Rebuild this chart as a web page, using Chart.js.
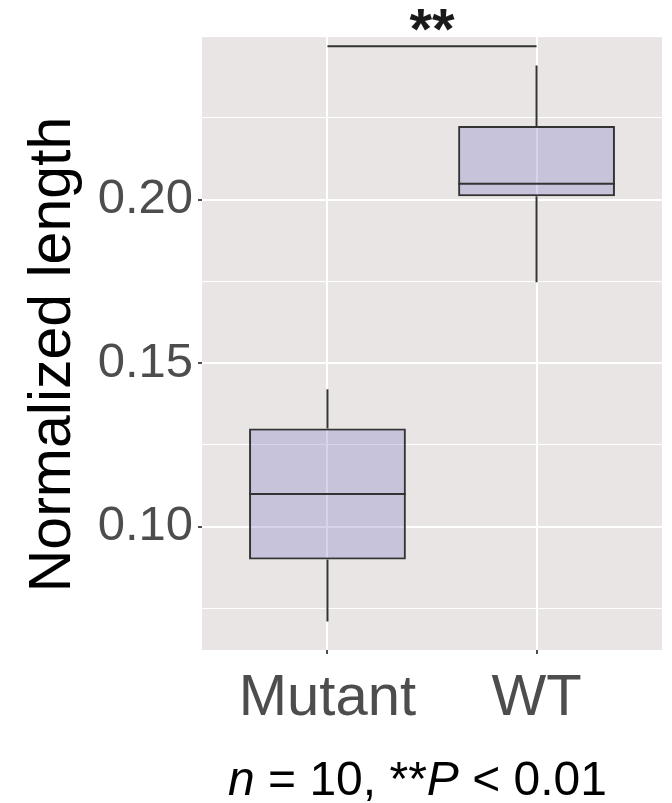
<!DOCTYPE html>
<html>
<head>
<meta charset="utf-8">
<script src="https://cdn.jsdelivr.net/npm/chart.js@4"></script>
<style>
  html, body { margin: 0; padding: 0; background: #fff; }
  #contenedor { width: 672px; height: 803px; }
</style>
</head>
<body>
<div id="contenedor"><canvas id="graficaCajas"></canvas></div>
<script>
// datos
const categorias = ['Mutant', 'WT'];
const minimos = [0.071, 0.1747];
const cuartil1 = [0.090, 0.201];
const medianas = [0.110, 0.2048];
const cuartil3 = [0.130, 0.2225];
const maximos = [0.142, 0.241];
const yTicks = [0.075, 0.10, 0.125, 0.15, 0.175, 0.20, 0.225];
const yEtiquetas = ['', '0.10', '', '0.15', '', '0.20', ''];
const signifY = 0.2469;
const signifTexto = '**';
const tituloY = 'Normalized length';
const piePartes = [['n', true], [' = 10, **', false], ['P', true], [' < 0.01', false]];

const FUENTE = '"Liberation Sans", Arial, Helvetica, sans-serif';
const anchoCaja = 0.75;
const grisTexto = '#4D4D4D';
const lineaOscura = '#333333';

// armar datasets
const datasets = [];

datasets.push({
  type: 'bar',
  label: 'caja',
  data: categorias.map((c, i) => ({ x: i + 1, y: [cuartil1[i], cuartil3[i]] })),
  backgroundColor: 'rgba(123, 116, 193, 0.3)',
  borderColor: lineaOscura,
  borderWidth: 2,
  borderSkipped: false,
  barPercentage: anchoCaja,
  categoryPercentage: 1,
  order: 1
});

categorias.forEach((c, i) => {
  // bigote superior
  datasets.push({
    type: 'scatter', showLine: true, order: 2,
    data: [{ x: i + 1, y: cuartil3[i] }, { x: i + 1, y: maximos[i] }],
    borderColor: lineaOscura, borderWidth: 2, pointRadius: 0
  });
  // bigote inferior
  datasets.push({
    type: 'scatter', showLine: true, order: 2,
    data: [{ x: i + 1, y: cuartil1[i] }, { x: i + 1, y: minimos[i] }],
    borderColor: lineaOscura, borderWidth: 2, pointRadius: 0
  });
  // mediana
  datasets.push({
    type: 'scatter', showLine: true, order: 0,
    data: [{ x: i + 1 - anchoCaja / 2, y: medianas[i] }, { x: i + 1 + anchoCaja / 2, y: medianas[i] }],
    borderColor: lineaOscura, borderWidth: 2, pointRadius: 0
  });
});

// barra de significancia
datasets.push({
  type: 'scatter', showLine: true, order: 0,
  data: [{ x: 1, y: signifY }, { x: 2, y: signifY }],
  borderColor: lineaOscura, borderWidth: 2, pointRadius: 0
});

const fondoPanel = {
  id: 'fondoPanel',
  beforeDraw(chart) {
    const { ctx, chartArea: a } = chart;
    ctx.save();
    ctx.fillStyle = '#E9E5E5';
    ctx.fillRect(a.left, a.top, a.right - a.left, a.bottom - a.top);
    ctx.restore();
  }
};

const textosExtra = {
  id: 'textosExtra',
  afterDraw(chart) {
    const { ctx, chartArea: a, scales: { x, y } } = chart;
    ctx.save();

    // titulo del eje y (un poco bajo el centro del panel, como en ggplot)
    ctx.save();
    ctx.translate(53.5, (a.top + a.bottom) / 2 + 11);
    ctx.rotate(-Math.PI / 2);
    ctx.fillStyle = '#000';
    ctx.font = '59px ' + FUENTE;
    ctx.textAlign = 'center';
    ctx.textBaseline = 'middle';
    ctx.fillText(tituloY, 0, 0);
    ctx.restore();

    // asteriscos sobre la barra
    ctx.fillStyle = '#1A1A1A';
    ctx.font = 'bold 58px ' + FUENTE;
    ctx.textAlign = 'center';
    ctx.textBaseline = 'alphabetic';
    const xm = (x.getPixelForValue(1) + x.getPixelForValue(2)) / 2;
    ctx.fillText(signifTexto, xm, y.getPixelForValue(signifY) + 3);

    // pie de figura
    ctx.fillStyle = '#000';
    ctx.textAlign = 'left';
    let px = 228;
    piePartes.forEach(([t, cursiva]) => {
      ctx.font = (cursiva ? 'italic ' : '') + '48px ' + FUENTE;
      ctx.fillText(t, px, 795);
      px += ctx.measureText(t).width;
    });
    ctx.restore();
  }
};

new Chart(document.getElementById('graficaCajas').getContext('2d'), {
  type: 'bar',
  data: { datasets: datasets },
  options: {
    responsive: true,
    maintainAspectRatio: false,
    animation: false,
    layout: { padding: { top: 37, right: 10, left: 0, bottom: 0 } },
    plugins: {
      legend: { display: false },
      tooltip: { enabled: false }
    },
    scales: {
      x: {
        type: 'linear',
        min: 0.4,
        max: 2.6,
        offset: false,
        afterBuildTicks: (s) => { s.ticks = categorias.map((c, i) => ({ value: i + 1 })); },
        afterFit: (s) => { s.height = 153; },
        ticks: {
          callback: (v) => categorias[v - 1],
          font: { family: FUENTE, size: 58 },
          color: grisTexto,
          padding: 10,
          maxRotation: 0,
          autoSkip: false
        },
        grid: {
          offset: false,
          color: '#FFFFFF',
          lineWidth: 2,
          tickLength: 4,
          tickWidth: 2,
          tickColor: grisTexto
        },
        border: { display: false }
      },
      y: {
        type: 'linear',
        min: 0.0623,
        max: 0.2497,
        afterBuildTicks: (s) => { s.ticks = yTicks.map(v => ({ value: v })); },
        afterFit: (s) => { s.width = 202; },
        ticks: {
          callback: (v, i) => yEtiquetas[i],
          font: { family: FUENTE, size: 49 },
          color: grisTexto,
          padding: 5
        },
        grid: {
          color: '#FFFFFF',
          lineWidth: (c) => (yEtiquetas[c.index] ? 2 : 1),
          tickLength: 4,
          tickWidth: 2,
          tickColor: (c) => (yEtiquetas[c.index] ? grisTexto : 'rgba(0,0,0,0)')
        },
        border: { display: false }
      }
    }
  },
  plugins: [fondoPanel, textosExtra]
});
</script>
</body>
</html>
